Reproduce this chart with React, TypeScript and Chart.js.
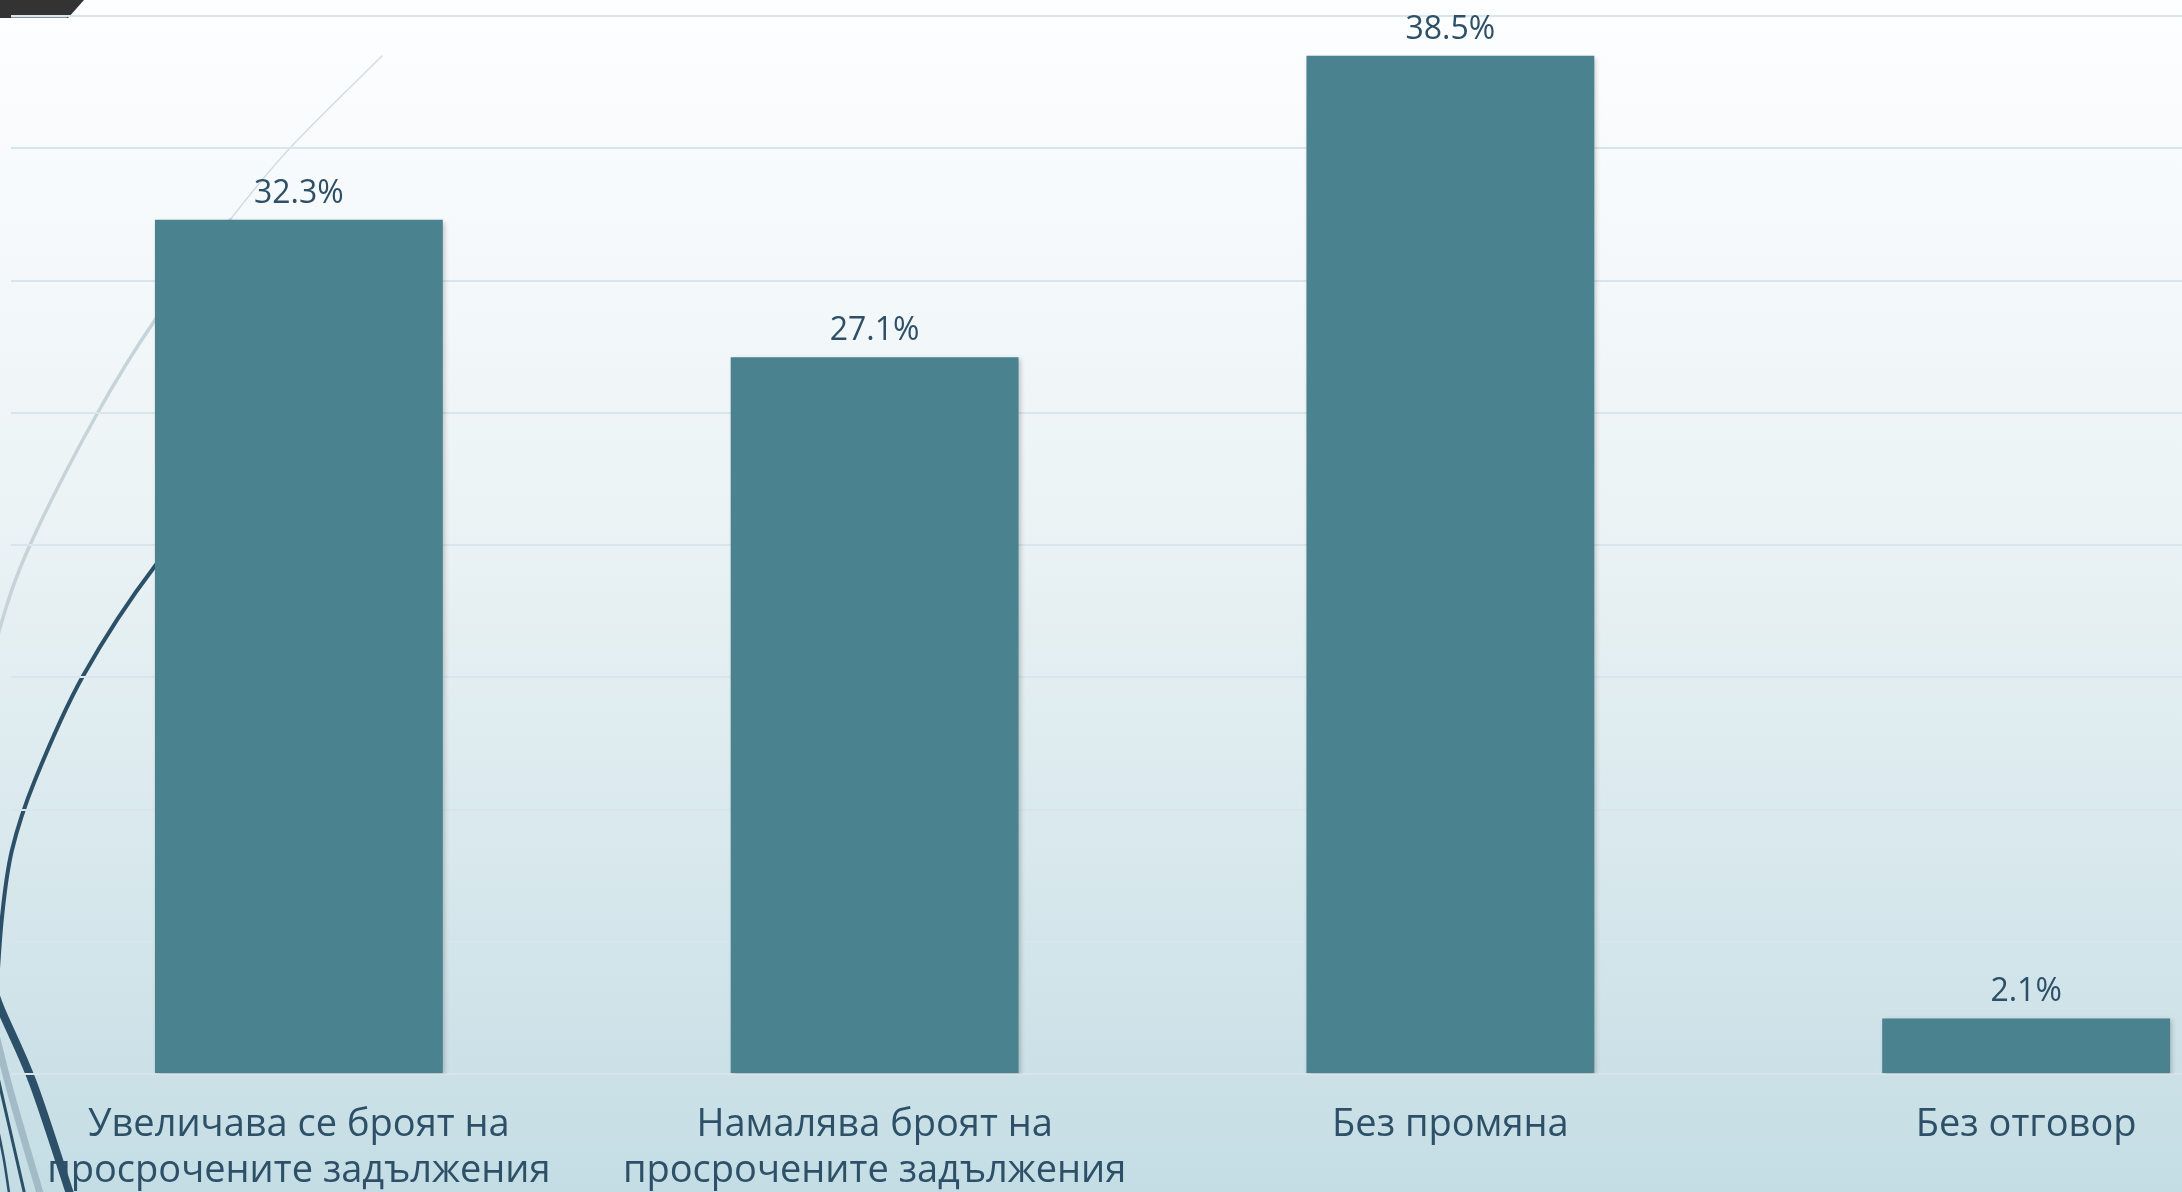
import React, { useEffect, useRef } from "react";
import { Chart, registerables } from "chart.js";
Chart.register(...registerables);

const categories: (string | string[])[] = [
  ["Увеличава се броят на", "просрочените задължения"],
  ["Намалява броят на", "просрочените задължения"],
  "Без промяна",
  "Без отговор",
];
const values = [32.3, 27.1, 38.5, 2.1];
const yMin = 0;
const yMax = 40;
const yStep = 5;

const W = 2320;
const H = 1192;
const TEXT = "#2d5068";
const BAR = "#4a8290";
const FONT = "'Open Sans', 'DejaVu Sans', sans-serif";

type P = [number, number];
function smoothPath(ctx: CanvasRenderingContext2D, pts: P[]) {
  ctx.beginPath();
  ctx.moveTo(pts[0][0], pts[0][1]);
  for (let i = 0; i < pts.length - 1; i++) {
    const p0 = pts[i - 1] || pts[i];
    const p1 = pts[i];
    const p2 = pts[i + 1];
    const p3 = pts[i + 2] || p2;
    const c1x = p1[0] + (p2[0] - p0[0]) / 6;
    const c1y = p1[1] + (p2[1] - p0[1]) / 6;
    const c2x = p2[0] - (p3[0] - p1[0]) / 6;
    const c2y = p2[1] - (p3[1] - p1[1]) / 6;
    ctx.bezierCurveTo(c1x, c1y, c2x, c2y, p2[0], p2[1]);
  }
}

const backgroundPlugin = {
  id: "bg",
  beforeDraw(chart: any) {
    const ctx: CanvasRenderingContext2D = chart.ctx;
    ctx.save();
    const g = ctx.createLinearGradient(0, 0, 0, H);
    g.addColorStop(0, "#fdfeff");
    g.addColorStop(0.4, "#edf4f6");
    g.addColorStop(0.75, "#d6e7ec");
    g.addColorStop(1, "#c4dde4");
    ctx.fillStyle = g;
    ctx.fillRect(0, 0, W, H);

    // decorative arcs
    ctx.lineCap = "round";
    ctx.strokeStyle = "#d3dde2";
    ctx.lineWidth = 1.5;
    smoothPath(ctx, [[382, 56], [290, 148], [230, 220], [155, 320]]);
    ctx.stroke();
    ctx.strokeStyle = "#c6d4da";
    ctx.lineWidth = 3.5;
    smoothPath(ctx, [[230, 220], [155, 320], [97, 414], [30, 545], [0, 628], [-15, 700]]);
    ctx.stroke();
    // dark arc
    ctx.strokeStyle = "#2b5068";
    ctx.lineWidth = 4;
    smoothPath(ctx, [[240, 470], [155, 566], [83, 676], [35, 780], [12, 850], [2, 917], [-4, 1000]]);
    ctx.stroke();
    // bottom-left bundle
    ctx.strokeStyle = "#a2bbc6";
    ctx.lineWidth = 7;
    smoothPath(ctx, [[-10, 1010], [10, 1090], [42, 1200]]);
    ctx.stroke();
    ctx.strokeStyle = "#2b5068";
    ctx.lineWidth = 3;
    smoothPath(ctx, [[-6, 1060], [10, 1130], [26, 1200]]);
    ctx.stroke();
    ctx.lineWidth = 2.5;
    smoothPath(ctx, [[-4, 1120], [4, 1160], [10, 1200]]);
    ctx.stroke();
    ctx.lineWidth = 8;
    smoothPath(ctx, [[-12, 970], [0, 1007], [33, 1083], [72, 1200]]);
    ctx.stroke();

    // top-left tab
    ctx.fillStyle = "#333333";
    ctx.beginPath();
    ctx.moveTo(0, 0);
    ctx.lineTo(84, 0);
    ctx.lineTo(68, 18);
    ctx.lineTo(0, 18);
    ctx.closePath();
    ctx.fill();
    ctx.fillStyle = "#8a8f93";
    ctx.fillRect(11, 15, 56, 3);
    ctx.restore();
  },
};

const barDecorPlugin = {
  id: "barDecor",
  beforeDatasetsDraw(chart: any) {
    const ctx = chart.ctx;
    ctx.save();
    ctx.shadowColor = "rgba(0,0,0,0.22)";
    ctx.shadowBlur = 5;
    ctx.shadowOffsetX = 2;
    ctx.shadowOffsetY = 2;
  },
  afterDatasetsDraw(chart: any) {
    const ctx: CanvasRenderingContext2D = chart.ctx;
    ctx.restore();
    ctx.save();
    ctx.fillStyle = TEXT;
    ctx.font = `32px ${FONT}`;
    ctx.textAlign = "center";
    ctx.textBaseline = "alphabetic";
    const meta = chart.getDatasetMeta(0);
    meta.data.forEach((bar: any, i: number) => {
      ctx.fillText(values[i].toFixed(1) + "%", bar.x, bar.y - 17);
    });
    ctx.restore();
  },
};

export default function App() {
  const ref = useRef<HTMLCanvasElement>(null);
  useEffect(() => {
    document.body.style.margin = "0";
    const chart = new Chart(ref.current!, {
      type: "bar",
      data: {
        labels: categories,
        datasets: [
          {
            data: values,
            backgroundColor: BAR,
            borderWidth: 0,
            barPercentage: 0.5,
            categoryPercentage: 1,
          },
        ],
      },
      options: {
        responsive: false,
        animation: false,
        devicePixelRatio: 1,
        layout: { padding: { top: 16, right: W - 2314, left: 0, bottom: 0 } },
        plugins: { legend: { display: false }, tooltip: { enabled: false } },
        scales: {
          x: {
            grid: { display: false },
            border: { display: false },
            ticks: {
              color: TEXT,
              font: { family: FONT, size: 38, lineHeight: 1.21 },
              padding: 20,
              maxRotation: 0,
              autoSkip: false,
            },
            afterFit: (s: any) => {
              s.height = H - 1074;
            },
          },
          y: {
            min: yMin,
            max: yMax,
            ticks: { display: false, stepSize: yStep },
            grid: { color: "#d8e5ec", lineWidth: 2, drawTicks: false },
            border: { display: false },
            afterFit: (s: any) => {
              s.width = 11;
            },
          },
        },
      },
      plugins: [backgroundPlugin, barDecorPlugin],
    });
    return () => chart.destroy();
  }, []);
  return (
    <div style={{ position: "fixed", left: 0, top: 0, width: 2182, height: 1192, overflow: "hidden" }}>
      <canvas ref={ref} width={W} height={H} style={{ display: "block", width: W, height: H }} />
    </div>
  );
}
